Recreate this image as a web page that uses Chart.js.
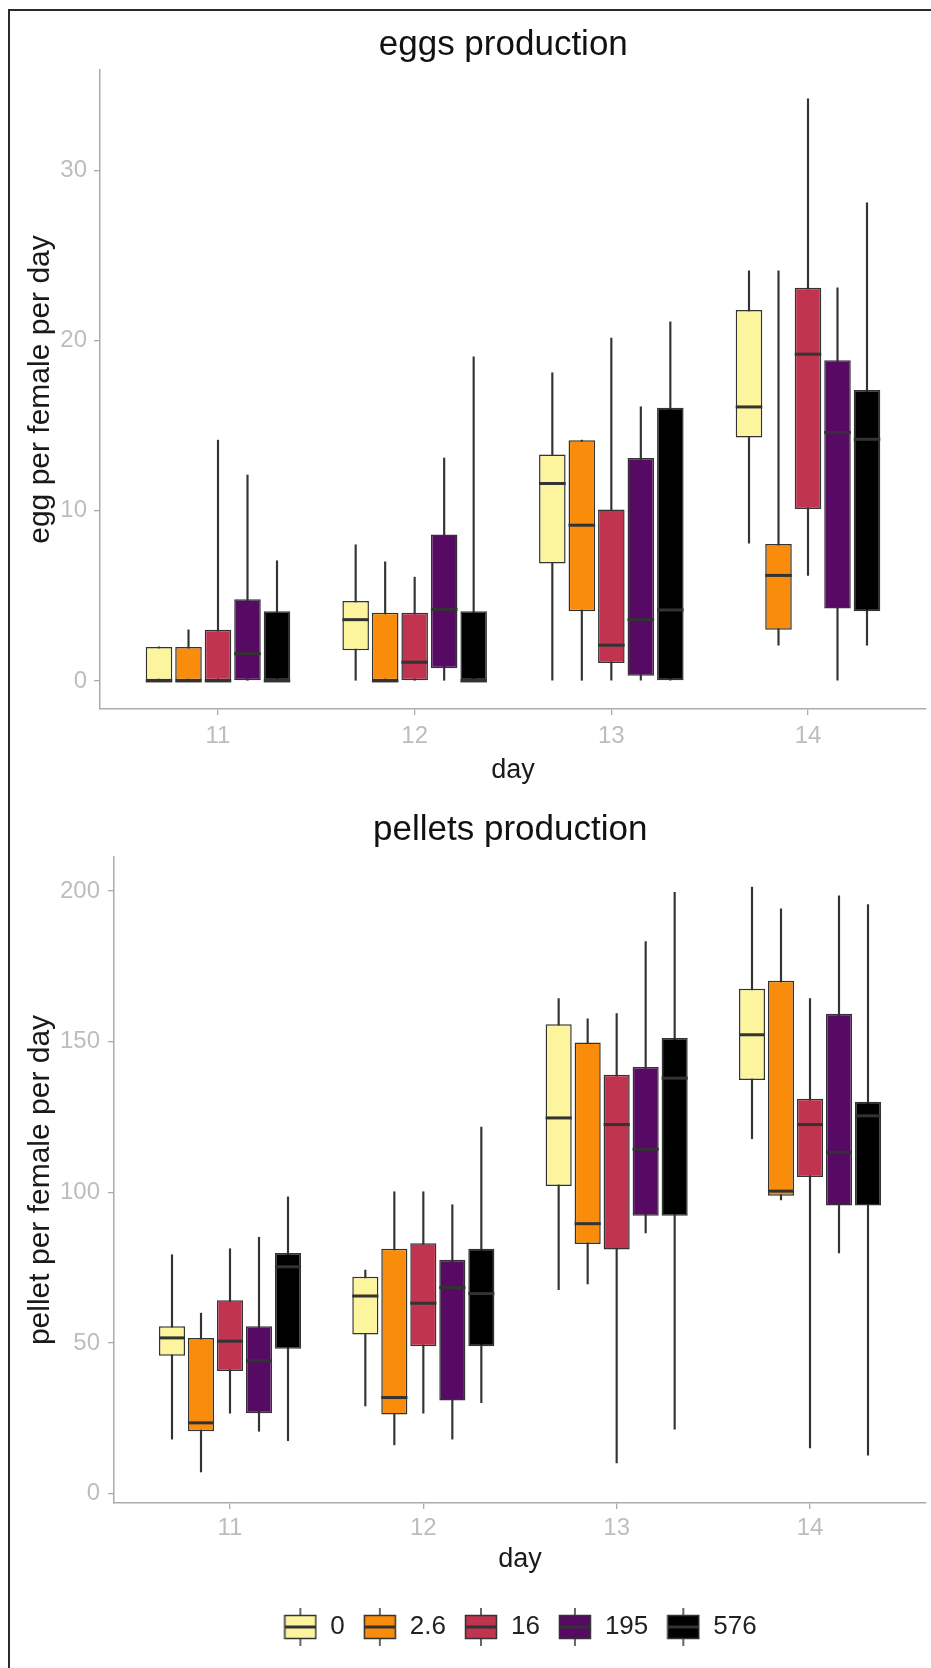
<!DOCTYPE html>
<html>
<head>
<meta charset="utf-8">
<title>eggs and pellets production</title>
<script src="https://cdn.jsdelivr.net/npm/chart.js@4.4.1/dist/chart.umd.min.js"></script>
<style>
  html, body { margin: 0; padding: 0; background: #fff; }
  #page { position: relative; width: 931px; height: 1668px; overflow: hidden; background: #fff; }
  #frame { position: absolute; left: 8px; top: 9px; right: -5px; bottom: -5px;
           border-left: 2px solid #2b2b2b; border-top: 2px solid #2b2b2b; pointer-events: none; }
  .holder { position: absolute; left: 0; width: 931px; }
  #eggHolder { top: 0; height: 800px; }
  #pelletHolder { top: 790px; height: 878px; }
</style>
</head>
<body>
<div id="page">
  <div class="holder" id="eggHolder"><canvas id="eggChart" width="931" height="800"></canvas></div>
  <div class="holder" id="pelletHolder"><canvas id="pelletChart" width="931" height="878"></canvas></div>
  <div id="frame"></div>
</div>
<script>
const days = [11, 12, 13, 14];
const doses = ['0', '2.6', '16', '195', '576'];
const eggTicks = [0, 10, 20, 30];
const pelletTicks = [0, 50, 100, 150, 200];

// egg per female per day: one row per dose, one value per day (11..14)
const eggLo  = [[0, 0, 0, 8.1], [0, 0, 0, 2.1], [0, 0, 0, 6.2], [0, 0, 0, 0], [0, 0, 0, 2.1]];
const eggQ1  = [[0, 1.8, 6.9, 14.3], [0, 0, 4.1, 3.0], [0, 0, 1.05, 10.1], [0, 0.75, 0.3, 4.26], [0, 0, 0, 4.1]];
const eggMed = [[0, 3.6, 11.6, 16.1], [0, 0, 9.15, 6.2], [0, 1.1, 2.1, 19.2], [1.6, 4.2, 3.6, 14.6], [0, 0, 4.17, 14.2]];
const eggQ3  = [[2, 4.7, 13.3, 21.8], [2, 4, 14.15, 8.05], [3, 4, 10.07, 23.1], [4.8, 8.6, 13.1, 18.85], [4.1, 4.1, 16.05, 17.1]];
const eggHi  = [[2, 8, 18.1, 24.1], [3, 7, 14.15, 24.1], [14.15, 6.1, 20.15, 34.2], [12.1, 13.1, 16.1, 23.1], [7.06, 19.04, 21.1, 28.1]];

// pellet per female per day
const pelLo  = [[18.1, 29.1, 67.7, 117.8], [7.2, 16.2, 69.6, 97.5], [26.7, 26.7, 10.2, 15.2], [20.7, 18.1, 86.5, 79.9], [17.6, 30.2, 21.4, 12.8]];
const pelQ1  = [[45.8, 52.8, 102.1, 137.3], [20.7, 26.3, 82.9, 98.9], [40.7, 48.9, 81.0, 105.1], [26.7, 30.9, 92.2, 95.6], [48.1, 48.9, 92.2, 95.6]];
const pelMed = [[51.7, 65.6, 124.7, 152.3], [23.5, 31.9, 89.6, 100.4], [50.6, 63.2, 122.5, 122.5], [44.1, 68.4, 114.3, 113.3], [75.3, 66.4, 137.9, 125.4]];
const pelQ3  = [[55.6, 72.0, 155.8, 167.6], [51.7, 81.3, 149.7, 170.2], [64.2, 83.1, 139.0, 131.1], [55.6, 77.6, 141.6, 159.3], [79.9, 81.3, 151.2, 130.1]];
const pelHi  = [[79.3, 74.2, 164.3, 201.3], [59.9, 100.2, 157.6, 194.1], [81.3, 100.2, 159.3, 164.3], [85.1, 95.9, 183.2, 198.4], [98.5, 121.7, 199.6, 195.5]];

const doseColors = ['#FDF59E', '#F98C0A', '#C0344F', '#560A63', '#000000'];
const INK = '#333333';
const AXIS = '#ababab';
const TICKTXT = '#bdbdbd';
const DODGE = 0.15;   // width of one dose slot inside a day (x units)
const BOXFRAC = 0.9;  // share of the slot taken by a box

Chart.defaults.font.family = '"Liberation Sans", Arial, sans-serif';

const slotX = (day, i) => day + (i - 2) * DODGE;

function halfBox(chart) {
  const s = chart.scales.x;
  return Math.abs(s.getPixelForValue(DODGE * BOXFRAC) - s.getPixelForValue(0)) / 2;
}

// little boxplot glyph for the legend keys
function makeKey(color) {
  const c = document.createElement('canvas');
  c.width = 34; c.height = 38;
  const g = c.getContext('2d');
  g.strokeStyle = INK;
  g.lineWidth = 1.5;
  g.beginPath(); g.moveTo(17, 0); g.lineTo(17, 38); g.stroke();
  g.fillStyle = color;
  g.fillRect(1.5, 7.5, 31, 23);
  g.strokeRect(1.5, 7.5, 31, 23);
  g.lineWidth = 3;
  g.beginPath(); g.moveTo(1.5, 19); g.lineTo(32.5, 19); g.stroke();
  return c;
}

function buildDatasets(lo, q1, med, q3, hi) {
  const sets = [];
  sets.push({
    type: 'bar', label: 'whiskers', order: 3, grouped: false,
    data: doses.flatMap((d, i) => days.map((day, j) => ({ x: slotX(day, i), y: [lo[i][j], hi[i][j]] }))),
    backgroundColor: INK, borderWidth: 0, barThickness: 1.5
  });
  doses.forEach((d, i) => {
    sets.push({
      type: 'bar', label: d, order: 2, grouped: false,
      data: days.map((day, j) => ({ x: slotX(day, i), y: [q1[i][j], q3[i][j]] })),
      backgroundColor: doseColors[i], borderColor: INK, borderWidth: 1.5,
      borderSkipped: false, barPercentage: BOXFRAC, categoryPercentage: 1
    });
  });
  sets.push({
    type: 'scatter', label: 'medians', order: 1,
    data: doses.flatMap((d, i) => days.map((day, j) => ({ x: slotX(day, i), y: med[i][j] }))),
    pointStyle: 'line', pointBorderColor: INK, pointBorderWidth: 3,
    pointRadius: (c) => halfBox(c.chart), pointHoverRadius: (c) => halfBox(c.chart)
  });
  return sets;
}

function makeChart(id, o) {
  return new Chart(document.getElementById(id), {
    type: 'bar',
    data: { datasets: buildDatasets(o.lo, o.q1, o.med, o.q3, o.hi) },
    options: {
      responsive: false,
      animation: false,
      events: [],
      layout: { padding: { left: 0, right: 5, top: 0, bottom: o.padBottom } },
      plugins: {
        tooltip: { enabled: false },
        title: {
          // two trailing spaces nudge the title a little left, as in the original
          display: true, text: o.title + '  ', fullSize: false, color: '#111',
          font: { size: 35, weight: 'normal' },
          padding: { top: o.titleTop, bottom: o.titleBottom }
        },
        legend: o.legend ? {
          display: true, position: 'bottom', fullSize: false,
          labels: {
            usePointStyle: true, pointStyleWidth: 34, padding: 18,
            color: '#222', font: { size: 26 },
            generateLabels: () => doses.map((d, i) => ({
              text: d, pointStyle: makeKey(doseColors[i]), fillStyle: doseColors[i],
              strokeStyle: INK, lineWidth: 0, hidden: false, datasetIndex: i + 1, fontColor: '#222'
            }))
          }
        } : { display: false }
      },
      scales: {
        x: {
          type: 'linear', min: 10.4, max: 14.6, offset: false,
          afterBuildTicks: (s) => { s.ticks = days.map(v => ({ value: v })); },
          afterFit: (s) => { s.height = o.xHeight; },
          grid: { drawOnChartArea: false, offset: false, color: AXIS, tickLength: 6, lineWidth: 1.3 },
          border: { display: true, color: AXIS, width: 1.5 },
          ticks: { color: TICKTXT, font: { size: 24 }, padding: o.xTickPad, maxRotation: 0 },
          title: { display: true, text: 'day', color: '#1a1a1a', font: { size: 27 }, padding: { top: 0, bottom: o.xTitlePad } }
        },
        y: {
          type: 'linear', min: o.yMin, max: o.yMax,
          afterBuildTicks: (s) => { s.ticks = o.yTicks.map(v => ({ value: v })); },
          afterFit: (s) => { s.width = o.yWidth; },
          grid: { drawOnChartArea: false, color: AXIS, tickLength: 6, lineWidth: 1.3 },
          border: { display: true, color: AXIS, width: 1.5 },
          ticks: { color: TICKTXT, font: { size: 24 }, padding: o.yTickPad },
          title: { display: true, text: o.yTitle, color: '#1a1a1a', font: { size: 30 }, padding: { top: 23, bottom: 0 } }
        }
      }
    }
  });
}

makeChart('eggChart', {
  title: 'eggs production', yTitle: 'egg per female per day',
  lo: eggLo, q1: eggQ1, med: eggMed, q3: eggQ3, hi: eggHi,
  yMin: -1.65, yMax: 35.9, yTicks: eggTicks,
  yWidth: 100, yTickPad: 7, xHeight: 91, xTickPad: 7, xTitlePad: 13.4,
  titleTop: 24, titleBottom: 4, padBottom: 0, legend: false
});

makeChart('pelletChart', {
  title: 'pellets production', yTitle: 'pellet per female per day',
  lo: pelLo, q1: pelQ1, med: pelMed, q3: pelQ3, hi: pelHi,
  yMin: -3.1, yMax: 211.3, yTicks: pelletTicks,
  yWidth: 114, yTickPad: 8, xHeight: 93, xTickPad: 5, xTitlePad: 20.4,
  titleTop: 19, titleBottom: 6, padBottom: 18, legend: true
});
</script>
</body>
</html>
